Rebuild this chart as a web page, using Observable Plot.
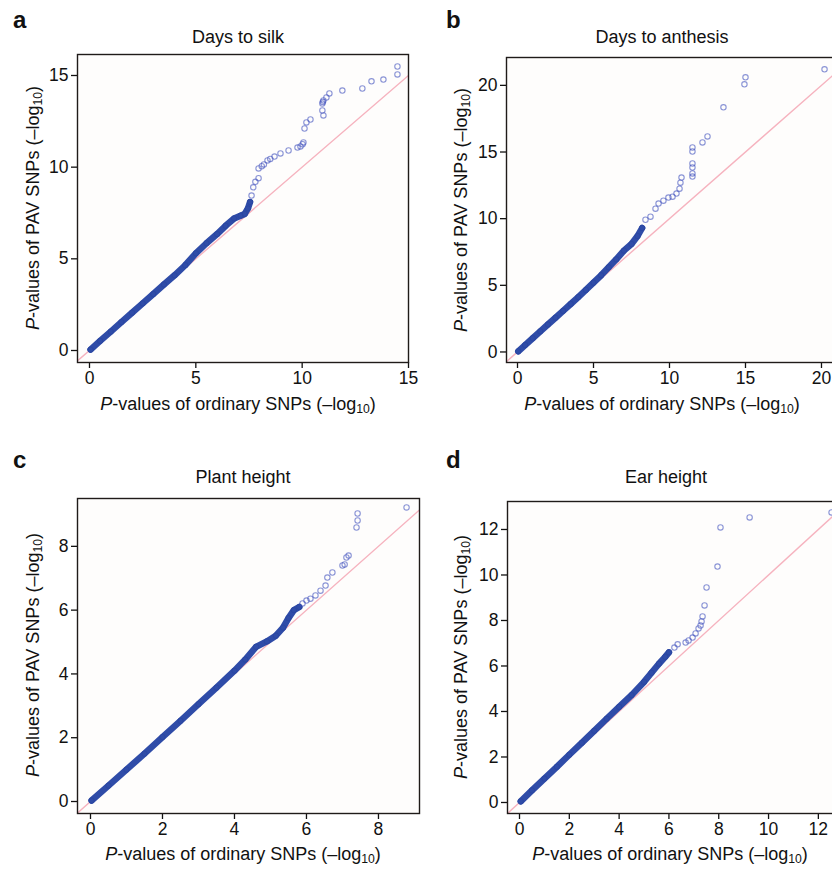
<!DOCTYPE html>
<html>
<head>
<meta charset="utf-8">
<script src="https://cdn.jsdelivr.net/npm/d3@7"></script>
<script src="https://cdn.jsdelivr.net/npm/@observablehq/plot@0.6"></script>
<style>
  html, body { margin: 0; padding: 0; background: #ffffff; }
  #fig { position: relative; width: 832px; height: 870px; overflow: hidden; background: #ffffff;
         font-family: "Liberation Sans", Arial, Helvetica, sans-serif; color: #111; }
  .pane { position: absolute; }
  .pane svg { max-width: none !important; display: block; }
  .txt { position: absolute; line-height: 1; white-space: nowrap; }
  .letter { font-size: 24px; font-weight: bold; }
  .title { font-size: 18px; transform: translateX(-50%); }
  .xlab { font-size: 18px; transform: translateX(-50%); }
  .ylab { font-size: 18px; transform: translate(-50%, -50%) rotate(-90deg); }
  sub { font-size: 0.68em; vertical-align: -0.28em; line-height: 0; }
</style>
</head>
<body>
<div id="fig"></div>
<script>
// ---------- data ----------
const panelLetters = ["a", "b", "c", "d"];
const panelTitles = ["Days to silk", "Days to anthesis", "Plant height", "Ear height"];

// reference line y = x
const diagonal = [-1, 30];

// Days to silk
const silkDenseX = [0.05, 0.5, 1, 1.5, 2, 2.5, 3, 3.5, 4, 4.5, 5, 5.5, 6, 6.4, 6.8, 7.1, 7.3, 7.45, 7.55];
const silkDenseY = [0.05, 0.52, 1.03, 1.55, 2.06, 2.57, 3.08, 3.6, 4.1, 4.65, 5.3, 5.85, 6.35, 6.8, 7.2, 7.35, 7.45, 7.75, 8.1];
const silkTailX = [7.62, 7.7, 7.8, 7.95, 7.95, 8.1, 8.2, 8.37, 8.5, 8.7, 8.98, 9.36, 9.78, 9.92, 10.02, 10.06, 10.11, 10.2, 10.39, 11.0, 10.95, 10.95, 10.97, 11.0, 11.14, 11.28, 11.89, 12.83, 13.26, 13.82, 14.48, 14.48];
const silkTailY = [8.45, 8.9, 9.2, 9.4, 9.93, 10.05, 10.15, 10.37, 10.45, 10.58, 10.75, 10.91, 11.07, 11.13, 11.25, 11.35, 12.11, 12.44, 12.6, 12.82, 13.09, 13.47, 13.56, 13.64, 13.8, 14.02, 14.18, 14.29, 14.68, 14.78, 15.06, 15.49];

// Days to anthesis
const anthDenseX = [0.05, 0.5, 1, 1.5, 2, 2.5, 3, 3.5, 4, 4.5, 5, 5.5, 6, 6.5, 7, 7.5, 7.9, 8.2];
const anthDenseY = [0.05, 0.52, 1.03, 1.55, 2.06, 2.57, 3.08, 3.6, 4.12, 4.65, 5.2, 5.75, 6.35, 6.95, 7.6, 8.1, 8.7, 9.3];
const anthTailX = [8.42, 8.75, 9.08, 9.28, 9.6, 9.93, 10.2, 10.46, 10.66, 10.72, 10.79, 11.51, 11.51, 11.51, 11.51, 11.51, 11.51, 12.17, 12.5, 13.55, 14.93, 15.0, 20.2];
const anthTailY = [9.92, 10.15, 10.75, 11.13, 11.35, 11.58, 11.65, 11.88, 12.25, 12.7, 13.08, 13.16, 13.39, 13.84, 14.14, 15.04, 15.34, 15.72, 16.17, 18.35, 20.08, 20.6, 21.2];

// Plant height
const plantDenseX = [0.03, 0.5, 1, 1.5, 2, 2.5, 3, 3.5, 4, 4.3, 4.6, 4.9, 5.15, 5.35, 5.5, 5.65, 5.8];
const plantDenseY = [0.03, 0.5, 1.0, 1.5, 2.02, 2.53, 3.05, 3.57, 4.1, 4.45, 4.85, 5.02, 5.2, 5.45, 5.75, 6.0, 6.1];
const plantTailX = [5.89, 6.0, 6.11, 6.25, 6.39, 6.53, 6.58, 6.72, 7.0, 7.06, 7.11, 7.17, 7.39, 7.42, 7.42, 8.78];
const plantTailY = [6.21, 6.3, 6.36, 6.46, 6.61, 6.77, 7.02, 7.18, 7.4, 7.43, 7.65, 7.71, 8.59, 8.81, 9.03, 9.22];

// Ear height
const earDenseX = [0.05, 0.5, 1, 1.5, 2, 2.5, 3, 3.5, 4, 4.5, 5, 5.3, 5.6, 5.85, 6.0];
const earDenseY = [0.05, 0.53, 1.05, 1.57, 2.1, 2.62, 3.15, 3.68, 4.2, 4.72, 5.3, 5.7, 6.1, 6.4, 6.6];
const earTailX = [6.22, 6.35, 6.67, 6.79, 6.95, 7.07, 7.19, 7.27, 7.31, 7.35, 7.43, 7.51, 7.95, 8.07, 9.24, 12.53];
const earTailY = [6.81, 6.95, 7.03, 7.12, 7.25, 7.43, 7.65, 7.78, 7.96, 8.18, 8.66, 9.45, 10.37, 12.09, 12.53, 12.75];

// tick values
const silkTicks = [0, 5, 10, 15];
const anthTicks = [0, 5, 10, 15, 20];
const plantTicks = [0, 2, 4, 6, 8];
const earTicks = [0, 2, 4, 6, 8, 10, 12];

// ---------- layout ----------
const M = {l: 50, t: 10, r: 10, b: 40};
const panels = [
  {denseX: silkDenseX, denseY: silkDenseY, tailX: silkTailX, tailY: silkTailY, xt: silkTicks, yt: silkTicks,
   frame: [77, 54, 331, 308], xd: [-0.564, 15], yd: [-0.655, 16.145],
   letter: [13, 8], title: [238, 28], xlab: [238, 395], ylab: [33, 208]},
  {denseX: anthDenseX, denseY: anthDenseY, tailX: anthTailX, tailY: anthTailY, xt: anthTicks, yt: anthTicks,
   frame: [506, 57, 339, 305], xd: [-0.724, 21.58], yd: [-0.79, 22.09],
   letter: [446, 8], title: [662, 28], xlab: [662, 395], ylab: [461, 210]},
  {denseX: plantDenseX, denseY: plantDenseY, tailX: plantTailX, tailY: plantTailY, xt: plantTicks, yt: plantTicks,
   frame: [77, 498, 342, 315], xd: [-0.361, 9.14], yd: [-0.376, 9.5],
   letter: [13, 448], title: [243, 468], xlab: [243, 845], ylab: [33, 655]},
  {denseX: earDenseX, denseY: earDenseY, tailX: earTailX, tailY: earTailY, xt: earTicks, yt: earTicks,
   frame: [507, 501, 338, 312], xd: [-0.482, 13.09], yd: [-0.484, 13.23],
   letter: [446, 448], title: [666, 468], xlab: [670, 845], ylab: [461, 657]}
];

const fig = document.getElementById("fig");
const font = "'Liberation Sans', Arial, Helvetica, sans-serif";
const xLabelHTML = "<i>P</i>-values of ordinary SNPs (–log<sub>10</sub>)";
const yLabelHTML = "<i>P</i>-values of PAV SNPs (–log<sub>10</sub>)";

function addText(cls, html, x, y) {
  const d = document.createElement("div");
  d.className = "txt " + cls;
  d.innerHTML = html;
  d.style.left = x + "px";
  d.style.top = y + "px";
  fig.appendChild(d);
  return d;
}

panels.forEach((p, i) => {
  const dense = p.denseX.map((x, j) => ({x, y: p.denseY[j]}));
  const tail = p.tailX.map((x, j) => ({x, y: p.tailY[j]}));
  const [fl, ft, fw, fh] = p.frame;
  const chart = Plot.plot({
    width: fw + M.l + M.r,
    height: fh + M.t + M.b,
    marginLeft: M.l, marginTop: M.t, marginRight: M.r, marginBottom: M.b,
    x: {domain: p.xd, label: null},
    y: {domain: p.yd, label: null},
    style: {fontSize: "17.5px", fontFamily: font, background: "transparent", color: "#111", overflow: "visible"},
    marks: [
      Plot.frame({fill: "#fefdfc", stroke: "none"}),
      Plot.line(diagonal, {x: d => d, y: d => d, stroke: "#f6b3bf", strokeWidth: 1.4, clip: true}),
      Plot.line(dense, {x: "x", y: "y", stroke: "#2f4ca8", strokeWidth: 6.5, strokeLinecap: "round", strokeLinejoin: "round", clip: true}),
      Plot.dot(dense, {x: "x", y: "y", r: 2.7, stroke: "#2a46a2", strokeWidth: 1, clip: true}),
      Plot.dot(tail, {x: "x", y: "y", r: 2.7, stroke: "#3e4fbd", strokeOpacity: 0.6, strokeWidth: 1.1, clip: true}),
      Plot.axisX({ticks: p.xt, tickSize: 6, tickPadding: 3, tickFormat: d => String(d), label: null, strokeWidth: 1.3}),
      Plot.axisY({ticks: p.yt, tickSize: 6, tickPadding: 3, tickFormat: d => String(d), label: null, strokeWidth: 1.3}),
      Plot.frame({stroke: "#1f1b19", strokeWidth: 1.4})
    ]
  });
  const pane = document.createElement("div");
  pane.className = "pane";
  pane.style.left = (fl - M.l) + "px";
  pane.style.top = (ft - M.t) + "px";
  pane.style.width = (fw + M.l + M.r) + "px";
  pane.appendChild(chart);
  fig.appendChild(pane);

  addText("letter", panelLetters[i], p.letter[0], p.letter[1]);
  addText("title", panelTitles[i], p.title[0], p.title[1]);
  addText("xlab", xLabelHTML, p.xlab[0], p.xlab[1]);
  addText("ylab", yLabelHTML, p.ylab[0], p.ylab[1]);
});
</script>
</body>
</html>
